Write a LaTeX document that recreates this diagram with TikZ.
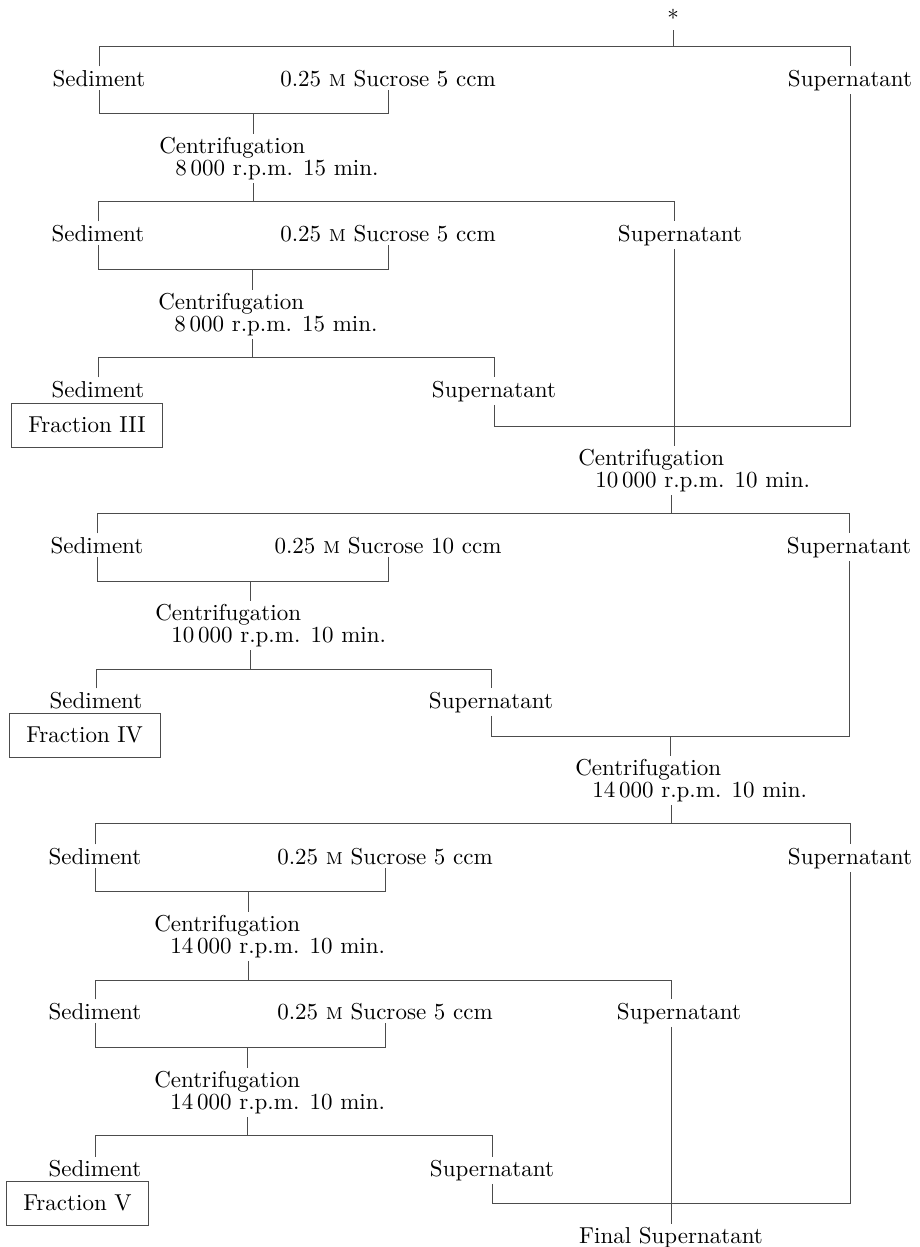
\documentclass[tikz,border=0pt]{standalone}
\usepackage{fontspec}
\setmainfont{lmroman10-regular.otf}[SmallCapsFont=lmromancaps10-regular.otf]
\usepackage{tikz}

\newcommand{\FlowFont}{\fontsize{23}{22}\selectfont}
\newcommand{\Gap}{3pt}
\tikzset{Word/.style={
    inner sep=\Gap,
    anchor=base,
    font=\FlowFont,
    text=black,
    },
  Fraction/.style={
    draw,
    inner xsep=17pt,
    minimum height=44pt,
    anchor=west,
    font=\FlowFont,
    text=black,
    }
}

\begin{document}
\begin{tikzpicture}[x=1pt, y=-1pt, color=black!70, line width=0.6pt,
    c/.style={Word, anchor=north west, align=left},
]
\useasboundingbox (0,0) rectangle (920,1247);

% first split
\node [Word] (star) at (673,27) {*};
\coordinate (b0) at (673,46);
\node [Word] (sed1) at (99,86) {Sediment};
\node [Word] (suc1) at (388,86) {0.25 \textsc{m} Sucrose 5 ccm};
\node [Word] (sup1) at (850,86) {Supernatant};
\draw (star) -- (b0);
\draw (sed1) -- (sed1 |- b0) -- (b0 -| sup1) -- (sup1);
\coordinate (k1) at (253,113);
\draw (sed1) -- (sed1 |- k1) -- (suc1 |- k1) -- (suc1);
\node [c] (cen1) at (156,134) {Centrifugation\\ \hspace*{16pt}8\,000 r.p.m. 15 min.};
\draw (k1) -- (k1 |- cen1.north);
\coordinate (b1) at (253,201);
\draw (cen1.south -| b1) -- (b1);

\coordinate (m1) at (674,426);
\node [Word] (sed2) at (98,241) {Sediment};
\node [Word] (suc2) at (388,241) {0.25 \textsc{m} Sucrose 5 ccm};
\node [Word] (sup2) at (680,241) {Supernatant};
\draw (sed2) -- (sed2 |- b1) -- (b1 -| m1) -- (m1 |- sup2.north);
\coordinate (k2) at (252,269);
\draw (sed2) -- (sed2 |- k2) -- (suc2 |- k2) -- (suc2);
\node [c] (cen2) at (155,290) {Centrifugation\\ \hspace*{16pt}8\,000 r.p.m. 15 min.};
\draw (k2) -- (k2 |- cen2.north);
\coordinate (b2) at (252,357);
\draw (cen2.south -| b2) -- (b2);

\node [Word] (sed3) at (98,397) {Sediment};
\node [Word] (sup3) at (494,397) {Supernatant};
\node [Fraction] (frac3) at (11,425) {Fraction III};
\draw (sed3) -- (sed3 |- b2) -- (b2 -| sup3) -- (sup3);
\draw (sup3) -- (sup3 |- m1) -- (m1 -| sup1) -- (sup1);
\draw (m1 |- sup2.south) -- (m1);

% second split
\node [c] (cen3) at (575,446) {Centrifugation\\ \hspace*{17pt}10\,000 r.p.m. 10 min.};
\draw (m1) -- (m1 |- cen3.north);
\coordinate (b3) at (671,513);
\draw (cen3.south -| b3) -- (b3);

\node [Word] (sed4) at (97,553) {Sediment};
\node [Word] (suc4) at (388,553) {0.25 \textsc{m} Sucrose 10 ccm};
\node [Word] (sup4) at (849,553) {Supernatant};
\draw (sed4) -- (sed4 |- b3) -- (b3 -| sup4) -- (sup4);
\coordinate (k4) at (250,581);
\draw (sed4) -- (sed4 |- k4) -- (suc4 |- k4) -- (suc4);
\node [c] (cen4) at (152,601) {Centrifugation\\ \hspace*{16pt}10\,000 r.p.m. 10 min.};
\draw (k4) -- (k4 |- cen4.north);
\coordinate (b4) at (250,669);
\draw (cen4.south -| b4) -- (b4);

\coordinate (m2) at (670,736);
\node [Word] (sed5) at (96,708) {Sediment};
\node [Word] (sup5) at (491,708) {Supernatant};
\node [Fraction] (frac4) at (9,735) {Fraction IV};
\draw (sed5) -- (sed5 |- b4) -- (b4 -| sup5) -- (sup5);
\draw (sup5) -- (sup5 |- m2) -- (m2 -| sup4) -- (sup4);

% third split
\node [c] (cen5) at (572,756) {Centrifugation\\ \hspace*{17pt}14\,000 r.p.m. 10 min.};
\draw (m2) -- (m2 |- cen5.north);
\coordinate (b5) at (671,823);
\draw (cen5.south -| b5) -- (b5);

\node [Word] (sed6) at (95,864) {Sediment};
\node [Word] (suc6) at (385,864) {0.25 \textsc{m} Sucrose 5 ccm};
\node [Word] (sup6) at (850,864) {Supernatant};
\draw (sed6) -- (sed6 |- b5) -- (b5 -| sup6) -- (sup6);
\coordinate (k6) at (248,891);
\draw (sed6) -- (sed6 |- k6) -- (suc6 |- k6) -- (suc6);
\node [c] (cen6) at (151,912) {Centrifugation\\ \hspace*{16pt}14\,000 r.p.m. 10 min.};
\draw (k6) -- (k6 |- cen6.north);
\coordinate (b6) at (248,980);
\draw (cen6.south -| b6) -- (b6);

\coordinate (m3) at (671,1203);
\node [Word] (sed7) at (95,1019) {Sediment};
\node [Word] (suc7) at (385,1019) {0.25 \textsc{m} Sucrose 5 ccm};
\node [Word] (sup7) at (679,1019) {Supernatant};
\draw (sed7) -- (sed7 |- b6) -- (b6 -| m3) -- (m3 |- sup7.north);
\coordinate (k7) at (247,1047);
\draw (sed7) -- (sed7 |- k7) -- (suc7 |- k7) -- (suc7);
\node [c] (cen7) at (151,1068) {Centrifugation\\ \hspace*{16pt}14\,000 r.p.m. 10 min.};
\draw (k7) -- (k7 |- cen7.north);
\coordinate (b7) at (247,1135);
\draw (cen7.south -| b7) -- (b7);

\node [Word] (sed8) at (95,1176) {Sediment};
\node [Word] (sup8) at (492,1176) {Supernatant};
\node [Fraction] (frac5) at (6,1203) {Fraction V};
\draw (sed8) -- (sed8 |- b7) -- (b7 -| sup8) -- (sup8);
\draw (sup8) -- (sup8 |- m3) -- (m3 -| sup6) -- (sup6);
\draw (m3 |- sup7.south) -- (m3);

\node [Word] (final) at (671,1243) {Final Supernatant};
\draw (m3) -- (final);
\end{tikzpicture}
\end{document}
